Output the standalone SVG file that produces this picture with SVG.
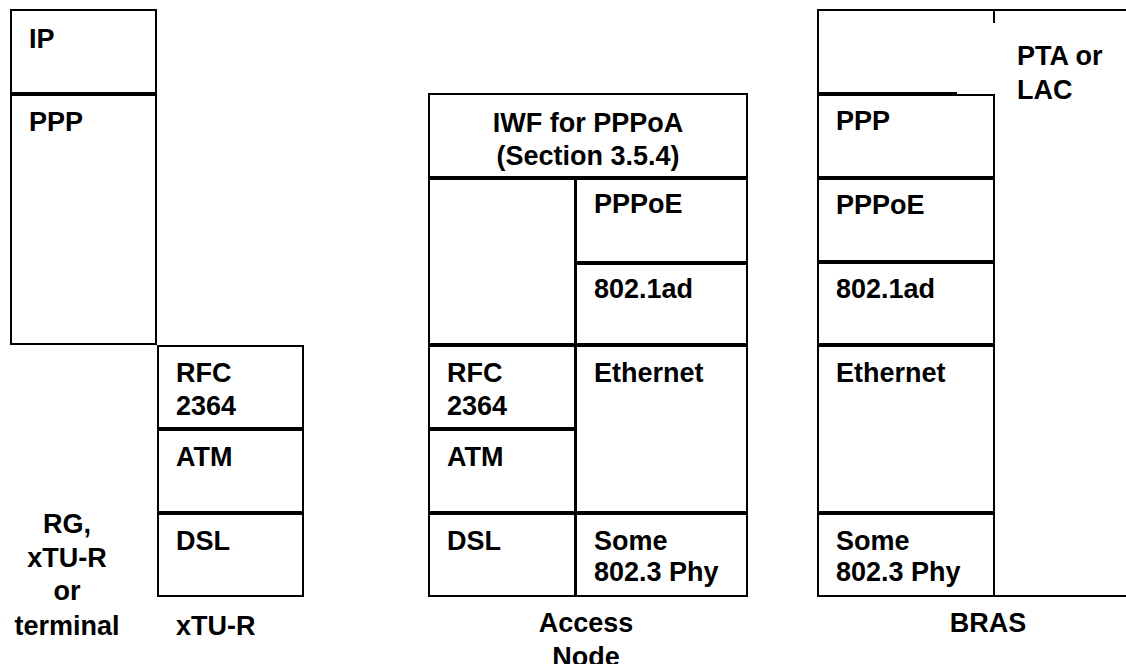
<svg xmlns="http://www.w3.org/2000/svg" width="1126" height="664" viewBox="0 0 1126 664">
<style>
.b{fill:#fff;stroke:#000;stroke-width:2}
.l{fill:none;stroke:#000;stroke-width:2}
text{font-family:"Liberation Sans",Arial,sans-serif;font-weight:bold;font-size:27px;fill:#000}
.c{text-anchor:middle}
</style>
<rect width="1126" height="664" fill="#fff"/>
<g id="rg">
<rect id="rg-ip" class="b" x="11" y="10" width="145" height="83"/>
<text x="29" y="48">IP</text>
<rect id="rg-ppp" class="b" x="11" y="95" width="145" height="249"/>
<text x="29" y="131">PPP</text>
<text class="c" x="67" y="533">RG,</text>
<text class="c" x="67" y="567">xTU-R</text>
<text class="c" x="67" y="600">or</text>
<text class="c" x="67" y="635">terminal</text>
</g>
<g id="xtur">
<rect class="b" x="158" y="346" width="145" height="82"/>
<text x="176" y="382">RFC</text>
<text x="176" y="415">2364</text>
<rect class="b" x="158" y="430" width="145" height="82"/>
<text x="176" y="466">ATM</text>
<rect class="b" x="158" y="514" width="145" height="82"/>
<text x="176" y="550">DSL</text>
<text x="176" y="635">xTU-R</text>
</g>
<g id="access-node">
<rect class="b" x="429" y="94" width="318" height="83"/>
<text class="c" x="588" y="132">IWF for PPPoA</text>
<text class="c" x="588" y="165">(Section 3.5.4)</text>
<rect class="b" x="429" y="179" width="146" height="165"/>
<rect class="b" x="576" y="179" width="171" height="83"/>
<text x="594" y="213">PPPoE</text>
<rect class="b" x="576" y="264" width="171" height="80"/>
<text x="594" y="298">802.1ad</text>
<rect class="b" x="429" y="346" width="146" height="82"/>
<text x="447" y="382">RFC</text>
<text x="447" y="415">2364</text>
<rect class="b" x="429" y="430" width="146" height="82"/>
<text x="447" y="466">ATM</text>
<rect class="b" x="576" y="346" width="171" height="166"/>
<text x="594" y="382">Ethernet</text>
<rect class="b" x="429" y="514" width="146" height="82"/>
<text x="447" y="550">DSL</text>
<rect class="b" x="576" y="514" width="171" height="82"/>
<text x="594" y="550">Some</text>
<text x="594" y="581">802.3 Phy</text>
<text class="c" x="586" y="632">Access</text>
<text class="c" x="586" y="666">Node</text>
</g>
<g id="bras">
<path class="l" d="M957,93 H818 V10 H1126 M994,10 V23 M994,95 V596 M818,596 H1126"/>
<text x="1017" y="65">PTA or</text>
<text x="1017" y="99">LAC</text>
<rect class="b" x="818" y="95" width="176" height="82"/>
<text x="836" y="130">PPP</text>
<rect class="b" x="818" y="179" width="176" height="82"/>
<text x="836" y="214">PPPoE</text>
<rect class="b" x="818" y="263" width="176" height="81"/>
<text x="836" y="298">802.1ad</text>
<rect class="b" x="818" y="346" width="176" height="166"/>
<text x="836" y="382">Ethernet</text>
<rect class="b" x="818" y="514" width="176" height="82"/>
<text x="836" y="550">Some</text>
<text x="836" y="581">802.3 Phy</text>
<text class="c" x="988" y="632">BRAS</text>
</g>
<g id="connectors"/>
</svg>
